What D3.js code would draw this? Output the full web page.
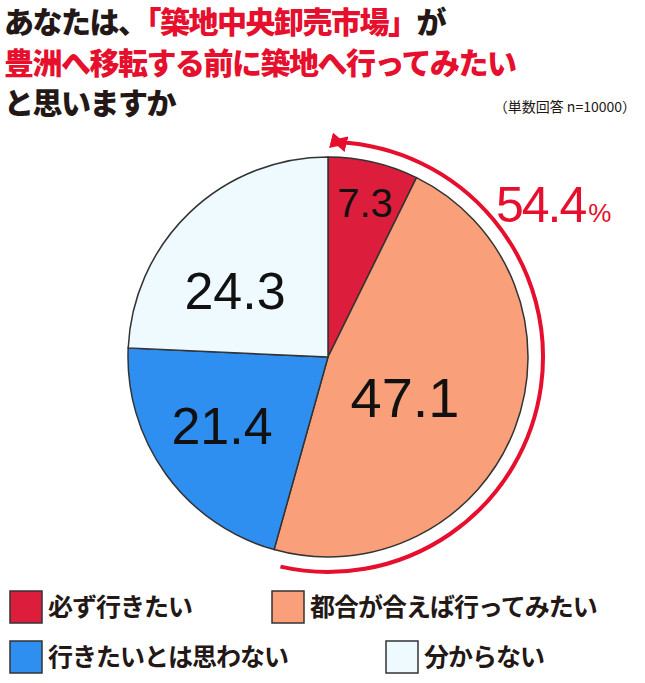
<!DOCTYPE html>
<html><head><meta charset="utf-8">
<script src="https://cdn.jsdelivr.net/npm/d3@7"></script>
<style>body{margin:0;background:#fff}svg{font-family:"Noto Sans CJK JP",sans-serif}</style>
</head><body>
<svg id="c" width="645" height="683"></svg>
<script>
var labels = ["必ず行きたい", "都合が合えば行ってみたい", "行きたいとは思わない", "分からない"];
var values = [7.3, 47.1, 21.4, 24.3];
var colors = ["#dc1e3c", "#f9a07a", "#2e8ff0", "#eefaff"];
var total = 54.4;

var svg = d3.select("#c");

// title
var t1 = svg.append("text").attr("x", 4).attr("y", 33).attr("font-size", 30).attr("font-weight", 900).attr("letter-spacing", -1.5);
t1.append("tspan").attr("fill", "#231815").text("あなたは、");
t1.append("tspan").attr("fill", "#e60f2d").text("「築地中央卸売市場」");
t1.append("tspan").attr("fill", "#231815").text("が");
svg.append("text").attr("x", 4).attr("y", 74).attr("font-size", 30).attr("font-weight", 900).attr("letter-spacing", -1.5)
  .attr("fill", "#e60f2d").text("豊洲へ移転する前に築地へ行ってみたい");
svg.append("text").attr("x", 4).attr("y", 114).attr("font-size", 30).attr("font-weight", 900).attr("letter-spacing", -1.5)
  .attr("fill", "#231815").text("と思いますか");
svg.append("text").attr("x", 636).attr("y", 112).attr("text-anchor", "end").attr("font-size", 14)
  .attr("fill", "#231815").text("（単数回答 n=10000）");

var cx = 328, cy = 357, r = 200;
var g = svg.append("g").attr("transform", "translate(" + cx + "," + cy + ")");
var pie = d3.pie().sort(null).value(function(d) { return d; });
var arc = d3.arc().innerRadius(0).outerRadius(r);
var arcs = pie(values);
g.selectAll("path.s").data(arcs).enter().append("path")
  .attr("d", arc).attr("fill", function(d, i) { return colors[i]; })
  .attr("stroke", "#333").attr("stroke-width", 1.5);

var lpos = [[37, -154], [77, 40], [-106, 68], [-93, -67]];
var fs = [40, 56, 52, 52];
g.selectAll("text.v").data(arcs).enter().append("text")
  .attr("x", function(d, i) { return lpos[i][0]; })
  .attr("y", function(d, i) { return lpos[i][1] + fs[i] * 0.36; })
  .attr("text-anchor", "middle")
  .attr("font-family", "Liberation Sans, Arial, sans-serif")
  .attr("font-size", function(d, i) { return fs[i]; })
  .attr("fill", "#111").text(function(d) { return d.data.toFixed(1); });

// red arc for total
svg.append("defs").append("marker").attr("id", "ah").attr("viewBox", "0 0 10 10")
  .attr("refX", 5).attr("refY", 5).attr("markerWidth", 4).attr("markerHeight", 4)
  .attr("orient", "auto-start-reverse")
  .append("path").attr("d", "M0,0L10,5L0,10Z").attr("fill", "#e60f2d");
var endA = arcs[1].endAngle;
var ra = 215;
g.append("path")
  .attr("d", d3.arc().innerRadius(ra).outerRadius(ra)({ startAngle: 0.05, endAngle: endA - 0.05 }).split("L")[0])
  .attr("fill", "none").attr("stroke", "#e60f2d").attr("stroke-width", 4)
  .attr("marker-start", "url(#ah)").attr("marker-end", "url(#ah)");

var tt = svg.append("text").attr("x", 496).attr("y", 222).attr("fill", "#e60f2d")
  .attr("font-family", "Liberation Sans, Arial, sans-serif");
tt.append("tspan").attr("font-size", 50).attr("letter-spacing", -2).text(total);
tt.append("tspan").attr("font-size", 26).attr("dx", 3).text("%");

// legend
var lx = [10, 272, 10, 386], ly = [607, 607, 657, 657];
var lg = svg.selectAll("g.l").data(labels).enter().append("g")
  .attr("transform", function(d, i) { return "translate(" + lx[i] + "," + ly[i] + ")"; });
lg.append("rect").attr("x", 0).attr("y", -16).attr("width", 32).attr("height", 32)
  .attr("fill", function(d, i) { return colors[i]; }).attr("stroke", "#333").attr("stroke-width", 1.5);
lg.append("text").attr("x", 38).attr("y", 9)
  .attr("font-size", 25).attr("font-weight", 700).attr("fill", "#231815").attr("letter-spacing", -1)
  .text(function(d) { return d; });
</script>
</body></html>
